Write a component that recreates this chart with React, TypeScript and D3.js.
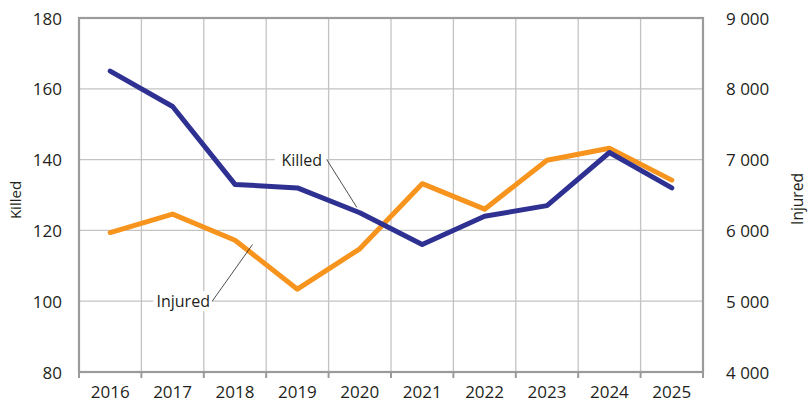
import * as d3 from 'd3';

const years = ['2016', '2017', '2018', '2019', '2020', '2021', '2022', '2023', '2024', '2025'];
const killed = [165, 155, 133, 132, 125, 116, 124, 127, 142, 132];
const injured = [5970, 6230, 5860, 5170, 5740, 6660, 6300, 6990, 7160, 6710];
const killedTicks = [80, 100, 120, 140, 160, 180];
const injuredTicks = [4000, 5000, 6000, 7000, 8000, 9000];

const FONT = '"Open Sans", "Noto Sans", sans-serif';
const INK = '#231f20';

export default function App(): React.ReactNode {
  const width = 812;
  const height = 404;
  const margin = { top: 18, right: 109, bottom: 32, left: 79 };
  const x0 = margin.left;
  const x1 = width - margin.right;
  const y0 = height - margin.bottom;
  const y1 = margin.top;

  const x = d3.scaleBand<string>().domain(years).range([x0, x1]);
  const xi = d3.scaleLinear().domain([0, years.length]).range([x0, x1]);
  const yL = d3.scaleLinear().domain([80, 180]).range([y0, y1]);
  const yR = d3.scaleLinear().domain([4000, 9000]).range([y0, y1]);
  const cx = (i: number) => (x(years[i]) ?? 0) + x.bandwidth() / 2;

  const killedPath =
    d3
      .line<number>()
      .x((_, i) => cx(i))
      .y((d) => yL(d))(killed) ?? '';
  const injuredPath =
    d3
      .line<number>()
      .x((_, i) => cx(i))
      .y((d) => yR(d))(injured) ?? '';

  const bounds = d3.range(years.length + 1).map((i) => xi(i));

  // label anchors
  const kLabel = { x: xi(3.57), y: yL(140) };
  const iLabel = { x: xi(1.67), y: yL(100) };

  return (
    <svg
      width={width}
      height={height}
      style={{ position: 'absolute', left: 0, top: 0, display: 'block', background: '#fff' }}
      fontFamily={FONT}
    >
      {killedTicks.map((t) => (
        <line key={'h' + t} x1={x0} x2={x1} y1={yL(t)} y2={yL(t)} stroke="#c3c3c3" strokeWidth={1.3} />
      ))}
      {bounds.map((bx, i) => (
        <line key={'v' + i} x1={bx} x2={bx} y1={y1} y2={y0} stroke="#c3c3c3" strokeWidth={1.3} />
      ))}
      <rect x={x0} y={y1} width={x1 - x0} height={y0 - y1} fill="none" stroke="#9b9b9b" strokeWidth={2.2} />
      {bounds.map((bx, i) => (
        <line key={'t' + i} x1={bx} x2={bx} y1={y0} y2={y0 + 6} stroke="#9b9b9b" strokeWidth={2} />
      ))}

      {killedTicks.map((t) => (
        <text key={'l' + t} x={62} y={yL(t)} textAnchor="end" dominantBaseline="central" fontSize={17} fill={INK}>
          {t}
        </text>
      ))}
      {injuredTicks.map((t) => (
        <text key={'r' + t} x={726} y={yR(t)} textAnchor="start" dominantBaseline="central" fontSize={17} fill={INK}>
          {d3.format(',')(t).replace(',', ' ')}
        </text>
      ))}
      {years.map((yr, i) => (
        <text key={'x' + yr} x={cx(i)} y={398} textAnchor="middle" fontSize={17} fill={INK}>
          {yr}
        </text>
      ))}
      <text transform="translate(15,200) rotate(-90)" textAnchor="middle" dominantBaseline="central" fontSize={15} fill={INK}>
        Killed
      </text>
      <text transform="translate(797,199) rotate(-90)" textAnchor="middle" dominantBaseline="central" fontSize={15.5} fill={INK}>
        Injured
      </text>

      <path d={injuredPath} fill="none" stroke="#f7941d" strokeWidth={5} strokeLinejoin="round" strokeLinecap="round" />
      <path d={killedPath} fill="none" stroke="#2e3192" strokeWidth={5} strokeLinejoin="round" strokeLinecap="round" />

      <rect x={kLabel.x - 27} y={kLabel.y - 10} width={52} height={20} fill="#fff" />
      <text x={kLabel.x} y={kLabel.y} textAnchor="middle" dominantBaseline="central" fontSize={16} fill={INK}>
        Killed
      </text>
      <line x1={kLabel.x + 25} y1={kLabel.y} x2={cx(4) - 3} y2={yL(126.5)} stroke={INK} strokeWidth={0.8} />

      <rect x={iLabel.x - 30} y={iLabel.y - 10} width={59} height={20} fill="#fff" />
      <text x={iLabel.x} y={iLabel.y} textAnchor="middle" dominantBaseline="central" fontSize={16} fill={INK}>
        Injured
      </text>
      <line x1={iLabel.x + 29} y1={iLabel.y} x2={xi(2.78)} y2={yR(5800)} stroke={INK} strokeWidth={0.8} />
    </svg>
  );
}
